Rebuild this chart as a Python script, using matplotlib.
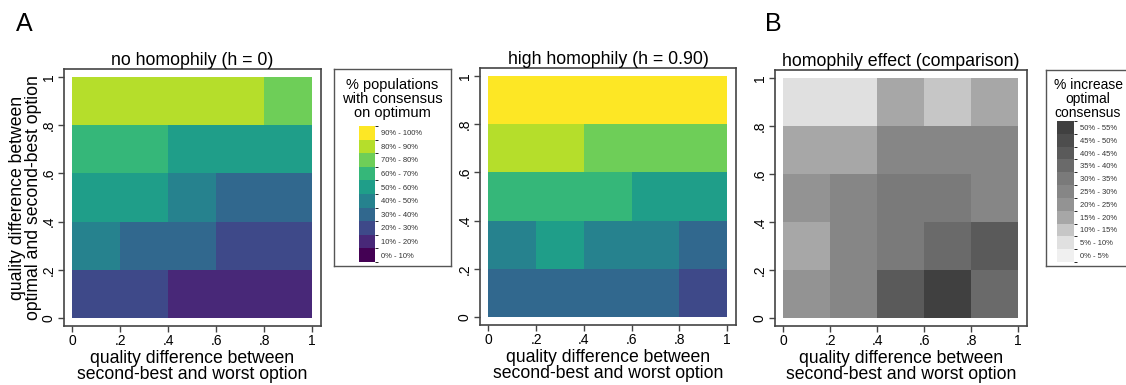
import numpy as np
import matplotlib
matplotlib.use('Agg')
import matplotlib.pyplot as plt
from matplotlib.colors import ListedColormap, BoundaryNorm
from matplotlib.cm import ScalarMappable

plt.rcParams['font.family'] = ['Liberation Sans', 'DejaVu Sans']

W, H = 1126, 385

edges = [0, 0.2, 0.4, 0.6, 0.8, 1.0]
tick_pos = [0, 0.2, 0.4, 0.6, 0.8, 1.0]
tick_labels = ['0', '.2', '.4', '.6', '.8', '1']

# % populations with consensus on optimum; rows go from y = 0 upward,
# columns from x = 0 to the right
no_homophily = [
    [25, 22, 15, 14, 13],
    [45, 35, 33, 27, 24],
    [56, 53, 46, 38, 36],
    [66, 63, 57, 55, 54],
    [86, 85, 83, 82, 78],
]
high_homophily = [
    [36, 38, 37, 35, 28],
    [47, 55, 45, 44, 37],
    [67, 65, 62, 58, 57],
    [84, 82, 76, 75, 74],
    [96, 97, 95, 96, 93],
]
# % increase in optimal consensus
homophily_effect = [
    [22, 27, 42, 52, 37],
    [17, 27, 32, 38, 43],
    [22, 27, 32, 31, 28],
    [17, 18, 28, 27, 26],
    [8, 7, 17, 12, 18],
]

consensus_bins = list(range(0, 101, 10))
consensus_labels = ['0% - 10%', '10% - 20%', '20% - 30%', '30% - 40%', '40% - 50%',
                    '50% - 60%', '60% - 70%', '70% - 80%', '80% - 90%', '90% - 100%']
effect_bins = list(range(0, 56, 5))
effect_labels = ['0% - 5%', '5% - 10%', '10% - 15%', '15% - 20%', '20% - 25%', '25% - 30%',
                 '30% - 35%', '35% - 40%', '40% - 45%', '45% - 50%', '50% - 55%']
gray_levels = [0.94, 0.88, 0.777, 0.655, 0.576, 0.525, 0.477, 0.416, 0.353, 0.30, 0.25]

viridis_cmap = ListedColormap(plt.cm.viridis(np.linspace(0, 1, 10)))
viridis_norm = BoundaryNorm(consensus_bins, viridis_cmap.N)
gray_cmap = ListedColormap([(g, g, g) for g in gray_levels])
gray_norm = BoundaryNorm(effect_bins, gray_cmap.N)

frame_col = '#444444'


def box(l, t, r, b):
    return [l / W, 1 - b / H, (r - l) / W, (b - t) / H]


def heat(ax, vals, cmap, norm, title):
    ax.pcolormesh(edges, edges, np.array(vals), cmap=cmap, norm=norm)
    ax.set_xlim(-0.035, 1.037)
    ax.set_ylim(-0.034, 1.034)
    ax.set_xticks(tick_pos, tick_labels)
    ax.set_yticks(tick_pos, tick_labels, rotation=90, va='center')
    ax.tick_params(direction='out', length=4, width=1, color=frame_col,
                   labelsize=10, pad=2)
    for s in ax.spines.values():
        s.set_color(frame_col)
        s.set_linewidth(1.2)
    ax.set_title(title, fontsize=12.8, pad=3)
    ax.set_xlabel('quality difference between\nsecond-best and worst option',
                  fontsize=12.7, linespacing=0.92, labelpad=1)


def legend_box(frame, cbar, title, title_x, title_y, fsize, cmap, norm, bins, labels):
    fax = fig.add_axes(box(*frame))
    fax.set_xticks([])
    fax.set_yticks([])
    for s in fax.spines.values():
        s.set_color('#555555')
        s.set_linewidth(1.0)
    fig.text(title_x / W, 1 - title_y / H, title, ha='center', va='center',
             fontsize=fsize, linespacing=1.0)
    cax = fig.add_axes(box(*cbar))
    centers = [(a + b) / 2 for a, b in zip(bins[:-1], bins[1:])]
    cb = fig.colorbar(ScalarMappable(norm=norm, cmap=cmap), cax=cax, ticks=centers)
    cb.set_ticklabels(labels)
    cb.outline.set_visible(False)
    cax.tick_params(length=0, labelsize=5.5, pad=4, labelcolor='#333333')


fig = plt.figure(figsize=(W / 100, H / 100), dpi=100)

ax1 = fig.add_axes(box(64, 69, 321, 326))
heat(ax1, no_homophily, viridis_cmap, viridis_norm, 'no homophily (h = 0)')
ax1.set_ylabel('quality difference between\noptimal and second-best option',
               fontsize=12.7, linespacing=0.92, labelpad=0)

ax2 = fig.add_axes(box(480, 68, 736, 325))
heat(ax2, high_homophily, viridis_cmap, viridis_norm, 'high homophily (h = 0.90)')

ax3 = fig.add_axes(box(775, 70, 1027, 326))
heat(ax3, homophily_effect, gray_cmap, gray_norm, 'homophily effect (comparison)')

legend_box((334, 69, 451, 266), (359, 126, 375, 262),
           '% populations\nwith consensus\non optimum', 392.5, 99, 10.5,
           viridis_cmap, viridis_norm, consensus_bins, consensus_labels)
legend_box((1046, 70, 1140, 266), (1057, 121, 1074, 262),
           '% increase\noptimal\nconsensus', 1088, 99, 10,
           gray_cmap, gray_norm, effect_bins, effect_labels)

fig.text(16 / W, 1 - 31 / H, 'A', fontsize=18)
fig.text(765 / W, 1 - 31 / H, 'B', fontsize=18)

fig.savefig('out.png', dpi=100)
